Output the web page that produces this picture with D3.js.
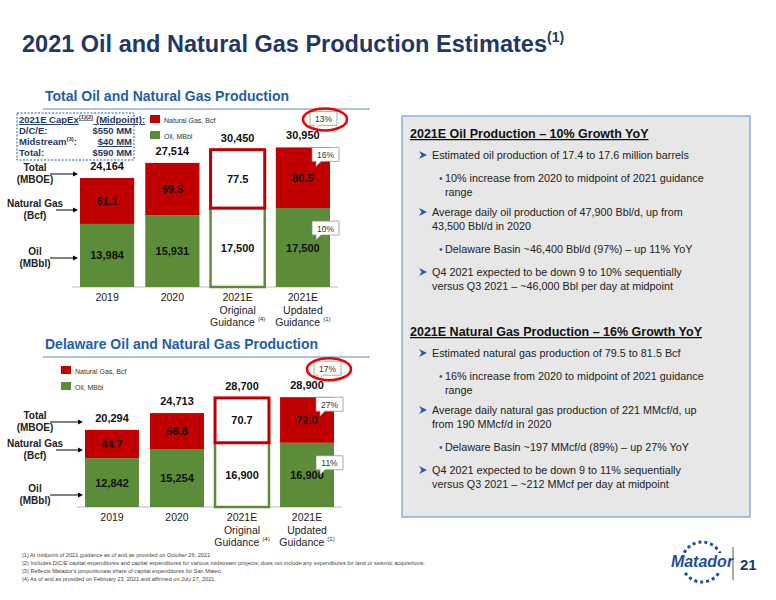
<!DOCTYPE html>
<html><head><meta charset="utf-8">
<script src="https://cdn.jsdelivr.net/npm/d3@7"></script>
<style>body{margin:0;background:#fff}svg{font-family:Arial,"Liberation Sans",sans-serif}</style>
</head><body><svg id="c" width="776" height="600"></svg>
<script>
var categories = ['2019', '2020', '2021E|Original|Guidance', '2021E|Updated|Guidance']
var catSup = ['', '', '(4)', '(1)']
var totalOil = [13984, 15931, 17500, 17500]
var totalMboe = [24164, 27514, 30450, 30950]
var totalGasBcf = ['61.1', '69.5', '77.5', '80.5']
var delOil = [12842, 15254, 16900, 16900]
var delMboe = [20294, 24713, 28700, 28900]
var delGasBcf = ['44.7', '56.8', '70.7', '72.0']
var totalCallouts = ['13%', '16%', '10%']
var delCallouts = ['17%', '27%', '11%']

var svg = d3.select('#c')
var blue = '#1f5fa8', red = '#c00000', green = '#5b8c3a'
var fmt = d3.format(',')

svg.append('text').attr('x', 22).attr('y', 52).attr('font-size', 23.5).attr('font-weight', 'bold').attr('fill', '#1f3864')
  .text('2021 Oil and Natural Gas Production Estimates')
  .append('tspan').attr('font-size', 14).attr('dy', -10).text('(1)')

function section(title, y) {
  svg.append('text').attr('x', 45).attr('y', y).attr('font-size', 14).attr('font-weight', 'bold').attr('fill', blue).text(title)
  svg.append('line').attr('x1', 43).attr('x2', 370).attr('y1', y + 8).attr('y2', y + 8).attr('stroke', '#8fb0d8').attr('stroke-width', 1.5)
}
section('Total Oil and Natural Gas Production', 101)
section('Delaware Oil and Natural Gas Production', 349)

function callout(x, y, t) {
  svg.append('path').attr('d', `M${x},${y} h27 v14 h-18 l-5,5 l0,-5 h-4 z`).attr('fill', '#fff').attr('stroke', '#888').attr('stroke-width', 0.7)
  svg.append('text').attr('x', x + 13.5).attr('y', y + 10.5).attr('text-anchor', 'middle').attr('font-size', 8.5).attr('fill', '#333').text(t)
}

function chart(o) {
  var x = d3.scaleBand().domain(categories).range(o.xr).paddingInner(0.17).paddingOuter(0)
  var y = d3.scaleLinear().domain([0, 31000]).range([o.base, o.base - 31000 * o.k])
  svg.append('line').attr('x1', o.xr[0] - 8).attr('x2', o.xr[1] + 8).attr('y1', o.base).attr('y2', o.base).attr('stroke', '#bbb')
  categories.forEach(function(c, i) {
    var bx = x(c), bw = x.bandwidth(), orig = i === 2
    var g = svg.append('g')
    g.append('rect').attr('x', bx).attr('width', bw).attr('y', y(o.oil[i])).attr('height', y(0) - y(o.oil[i]))
      .attr('fill', orig ? '#fff' : green).attr('stroke', orig ? green : 'none').attr('stroke-width', 2.5)
    g.append('rect').attr('x', bx).attr('width', bw).attr('y', y(o.tot[i])).attr('height', y(o.oil[i]) - y(o.tot[i]))
      .attr('fill', orig ? '#fff' : red).attr('stroke', orig ? red : 'none').attr('stroke-width', 3)
    g.append('text').attr('x', bx + bw / 2).attr('y', (y(0) + y(o.oil[i])) / 2 + 4).attr('text-anchor', 'middle').attr('font-size', 11).attr('font-weight', 'bold').attr('fill', '#111').text(fmt(o.oil[i]))
    g.append('text').attr('x', bx + bw / 2).attr('y', (y(o.oil[i]) + y(o.tot[i])) / 2 + 4).attr('text-anchor', 'middle').attr('font-size', 11).attr('font-weight', 'bold').attr('fill', '#111').text(o.gas[i])
    g.append('text').attr('x', bx + bw / 2).attr('y', y(o.tot[i]) - 8).attr('text-anchor', 'middle').attr('font-size', 11).attr('font-weight', 'bold').attr('fill', '#111').text(fmt(o.tot[i]))
    c.split('|').forEach(function(line, j, arr) {
      var t = g.append('text').attr('x', bx + bw / 2).attr('y', o.base + 14 + j * 12.5).attr('text-anchor', 'middle').attr('font-size', 10.5).attr('fill', '#222').text(line)
      if (j === arr.length - 1 && catSup[i]) t.append('tspan').attr('font-size', 6).attr('dy', -5).attr('dx', 3).text(catSup[i])
    })
    if (i === 3) {
      callout(bx + bw - 20, y(o.tot[i]) - 36, o.call[0])
      svg.append('ellipse').attr('cx', bx + bw - 5).attr('cy', y(o.tot[i]) - 28).attr('rx', 22).attr('ry', 11).attr('fill', 'none').attr('stroke', '#e00').attr('stroke-width', 2.5)
      callout(bx + bw - 18, y(o.tot[i]) + 0, o.call[1])
      callout(bx + bw - 18, y(o.oil[i]) + 13, o.call[2])
    }
  })
  // left labels with arrows
  var x0 = x(categories[0])
  var labs = [['Total', '(MBOE)'], ['Natural Gas', '(Bcf)'], ['Oil', '(MBbl)']]
  labs.forEach(function(l, j) {
    var ly = o.labY[j]
    svg.append('text').attr('x', 35).attr('y', ly - 1).attr('text-anchor', 'middle').attr('font-size', 10).attr('font-weight', 'bold').attr('fill', '#222').text(l[0])
    svg.append('text').attr('x', 35).attr('y', ly + 11).attr('text-anchor', 'middle').attr('font-size', 10).attr('font-weight', 'bold').attr('fill', '#222').text(l[1])
    svg.append('line').attr('x1', j === 1 ? 56 : 50).attr('x2', x0 - 5).attr('y1', ly + 2).attr('y2', ly + 2).attr('stroke', '#000')
    svg.append('path').attr('d', `M${x0 - 2},${ly + 2} l-5,-2.5 v5 z`).attr('fill', '#000')
  })
  // legend
  ;[[red, 'Natural Gas, Bcf'], [green, 'Oil, MBbl']].forEach(function(d, j) {
    svg.append('rect').attr('x', o.lx).attr('y', o.ly + j * 16).attr('width', 10).attr('height', 8).attr('fill', d[0])
    svg.append('text').attr('x', o.lx + 14).attr('y', o.ly + j * 16 + 7.5).attr('font-size', 7).attr('fill', '#333').text(d[1])
  })
}

chart({xr: [80, 330], base: 287, k: 0.00451, oil: totalOil, tot: totalMboe, gas: totalGasBcf, call: totalCallouts, labY: [172, 208, 256], lx: 150, ly: 115})
chart({xr: [85, 334], base: 507, k: 0.0038, oil: delOil, tot: delMboe, gas: delGasBcf, call: delCallouts, labY: [420, 448, 493], lx: 61, ly: 366})

// capex box
svg.append('rect').attr('x', 17).attr('y', 113).attr('width', 117).attr('height', 47).attr('fill', '#fff').attr('stroke', blue).attr('stroke-dasharray', '2,1.5')
var cap = [['2021E CapEx', '', 0], ['D/C/E:', '$550 MM', 1], ['Midstream', '$40 MM', 2], ['Total:', '$590 MM', 3]]
cap.forEach(function(c) {
  var yy = 123 + c[2] * 11
  var t = svg.append('text').attr('x', 19).attr('y', yy).attr('font-size', 9.5).attr('font-weight', 'bold').attr('fill', '#1f3864').text(c[0])
  if (c[2] === 0) {
    t.attr('text-decoration', 'underline')
    t.append('tspan').attr('font-size', 6).attr('dy', -4).text('(1)(2)')
    t.append('tspan').attr('dy', 4).text(' (Midpoint):')
  }
  if (c[2] === 2) { t.append('tspan').attr('font-size', 6).attr('dy', -4).text('(3)'); t.append('tspan').attr('dy', 4).text(':') }
  svg.append('text').attr('x', 132).attr('y', yy).attr('text-anchor', 'end').attr('font-size', 9.5).attr('font-weight', 'bold').attr('fill', '#1f3864')
    .attr('text-decoration', c[2] === 2 ? 'underline' : null).text(c[1])
})

// right panel
svg.append('rect').attr('x', 402).attr('y', 116).attr('width', 348).attr('height', 401).attr('fill', '#e7e7e7').attr('stroke', '#6f9fd8').attr('stroke-width', 1.2)
var panel = [
  ['h', 138, '2021E Oil Production – 10% Growth YoY'],
  ['b', 159, 'Estimated oil production of 17.4 to 17.6 million barrels'],
  ['s', 182, '10% increase from 2020 to midpoint of 2021 guidance'], ['c', 196, 'range'],
  ['b', 216, 'Average daily oil production of 47,900 Bbl/d, up from'], ['c2', 230, '43,500 Bbl/d in 2020'],
  ['s', 253, 'Delaware Basin ~46,400 Bbl/d (97%) – up 11% YoY'],
  ['b', 276, 'Q4 2021 expected to be down 9 to 10% sequentially'], ['c2', 290, 'versus Q3 2021 – ~46,000 Bbl per day at midpoint'],
  ['h', 336, '2021E Natural Gas Production – 16% Growth YoY'],
  ['b', 357, 'Estimated natural gas production of 79.5 to 81.5 Bcf'],
  ['s', 380, '16% increase from 2020 to midpoint of 2021 guidance'], ['c', 394, 'range'],
  ['b', 414, 'Average daily natural gas production of 221 MMcf/d, up'], ['c2', 428, 'from 190 MMcf/d in 2020'],
  ['s', 451, 'Delaware Basin ~197 MMcf/d (89%) – up 27% YoY'],
  ['b', 474, 'Q4 2021 expected to be down 9 to 11% sequentially'], ['c2', 488, 'versus Q3 2021 – ~212 MMcf per day at midpoint']
]
panel.forEach(function(p) {
  var t = p[0], yy = p[1]
  if (t === 'h') {
    svg.append('text').attr('x', 410).attr('y', yy).attr('font-size', 12.5).attr('font-weight', 'bold').attr('fill', '#111').attr('text-decoration', 'underline').text(p[2])
    return
  }
  if (t === 'b') svg.append('path').attr('d', `M${419},${yy - 8} l8,4 l-8,4 l2.5,-4 z`).attr('fill', '#2a5aa8')
  if (t === 's') svg.append('text').attr('x', 439).attr('y', yy).attr('font-size', 10).attr('fill', '#2a5aa8').text('•')
  var tx = t === 'b' || t === 'c2' ? 432 : 445
  svg.append('text').attr('x', tx).attr('y', yy).attr('font-size', 10.8).attr('fill', '#222').text(p[2])
})

// footnotes
var notes = ['(1)  At midpoint of 2021 guidance as of and as provided on October 26, 2021.',
  '(2)  Includes D/C/E capital expenditures and capital expenditures for various midstream projects; does not include any expenditures for land or seismic acquisitions.',
  '(3)  Reflects Matador\'s proportionate share of capital expenditures for San Mateo.',
  '(4)  As of and as provided on February 23, 2021 and affirmed on July 27, 2021.']
notes.forEach(function(n, i) {
  svg.append('text').attr('x', 22).attr('y', 557 + i * 8).attr('font-size', 5.6).attr('fill', '#444').text(n)
})
// logo + page
svg.append('circle').attr('cx', 702).attr('cy', 562).attr('r', 20).attr('fill', 'none').attr('stroke', '#1f4e9c').attr('stroke-width', 3).attr('stroke-dasharray', '3,3')
svg.append('rect').attr('x', 674).attr('y', 553).attr('width', 56).attr('height', 18).attr('fill', '#fff')
svg.append('text').attr('x', 702).attr('y', 567).attr('text-anchor', 'middle').attr('font-size', 16).attr('font-weight', 'bold').attr('font-style', 'italic').attr('fill', '#1f4e9c').text('Matador')
svg.append('line').attr('x1', 733).attr('x2', 733).attr('y1', 547).attr('y2', 580).attr('stroke', '#555')
svg.append('text').attr('x', 740).attr('y', 570).attr('font-size', 15).attr('font-weight', 'bold').attr('fill', '#1f3864').text('21')
</script></body></html>
